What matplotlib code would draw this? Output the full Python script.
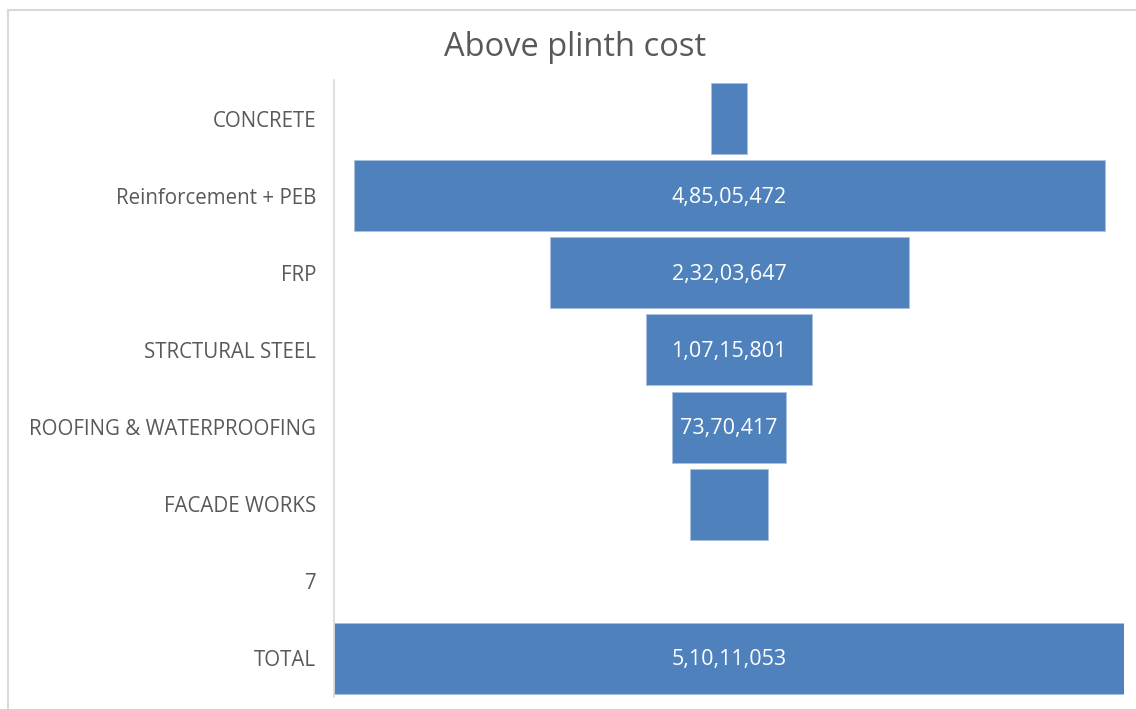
import matplotlib.pyplot as plt
from matplotlib.lines import Line2D

categories = ['CONCRETE', 'Reinforcement + PEB', 'FRP', 'STRCTURAL STEEL',
              'ROOFING & WATERPROOFING', 'FACADE WORKS', '7', 'TOTAL']
values = [2330000, 48505472, 23203647, 10715801, 7370417, 5010000, 0, 51011053]
labels = ['', '4,85,05,472', '2,32,03,647', '1,07,15,801', '73,70,417', '', '', '5,10,11,053']

plt.rcParams['font.family'] = ['Open Sans', 'DejaVu Sans']
grey = '#595959'
blue = '#4f81bd'

fig = plt.figure(figsize=(11.36, 7.09), dpi=100)
ax = fig.add_axes([334.3 / 1136, 1 - 697 / 709, (1124 - 334.3) / 1136, (697 - 80) / 709])

total = max(values)
ypos = list(range(len(categories)))
for y, v, lab in zip(ypos, values, labels):
    if v <= 0:
        continue
    ax.barh(y, v, left=-v / 2, height=0.92, color=blue, edgecolor='#a9c0df', linewidth=0.6)
    if lab:
        ax.text(0, y + 0.02, lab, ha='center', va='center', color='white', fontsize=15.5)

ax.set_xlim(-total / 2, total / 2)
ax.set_ylim(len(categories) - 0.5, -0.5)
ax.set_yticks(ypos)
ax.set_yticklabels(categories, fontsize=14.8, color=grey)
ax.tick_params(axis='y', length=0, pad=13)
ax.set_xticks([])
for s in ['top', 'right', 'bottom']:
    ax.spines[s].set_visible(False)
ax.spines['left'].set_color('#d9d9d9')
ax.spines['left'].set_linewidth(1.2)

fig.text(575 / 1136, 1 - 47 / 709, 'Above plinth cost', ha='center', va='center',
         fontsize=23.5, color=grey)

# chart frame (only top and left visible in crop)
fig.add_artist(Line2D([8 / 1136, 1.0], [1 - 10 / 709] * 2, color='#d9d9d9', lw=1.5))
fig.add_artist(Line2D([8 / 1136] * 2, [0, 1 - 10 / 709], color='#d9d9d9', lw=1.5))

fig.savefig('out.png', dpi=100, facecolor='white')
